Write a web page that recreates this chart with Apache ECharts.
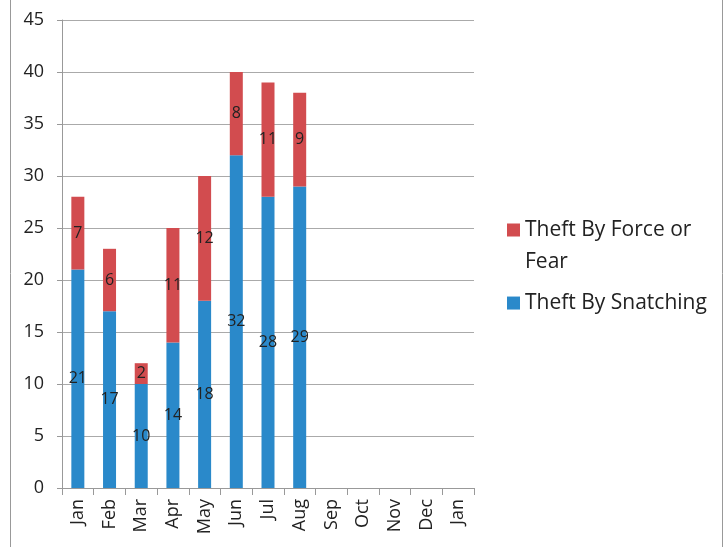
<!DOCTYPE html>
<html>
<head>
  <title>Theft chart</title>
  <script src="https://cdn.jsdelivr.net/npm/echarts@6/dist/echarts.min.js"></script>
  <style>
    html, body { margin: 0; padding: 0; background: #fff; }
    #chart { width: 725px; height: 547px; }
  </style>
</head>
<body>
  <div id="chart"></div>
  <script>
    // datos
    const months = ['Jan', 'Feb', 'Mar', 'Apr', 'May', 'Jun', 'Jul', 'Aug', 'Sep', 'Oct', 'Nov', 'Dec', 'Jan'];
    const snatching = [21, 17, 10, 14, 18, 32, 28, 29, null, null, null, null, null];
    const forceFear = [7, 6, 2, 11, 12, 8, 11, 9, null, null, null, null, null];

    const fontName = '"Open Sans", "DejaVu Sans", sans-serif';
    const legendText = { fontFamily: fontName, fontSize: 21, color: '#222', lineHeight: 32 };
    var myChart = echarts.init(document.getElementById('chart'));

    var option = {
      animation: false,
      grid: { left: 62, right: 251, top: 20, bottom: 59 },
      legend: [
        {
          // cuadrado alineado con la primera linea del texto
          orient: 'vertical',
          left: 502,
          top: 208,
          itemWidth: 13,
          itemHeight: 64,
          icon: 'path://M0,0L13,0L13,0.01ZM0,9.5L13,9.5L13,22.5L0,22.5ZM0,63.99L13,63.99L13,64Z',
          data: ['Theft By Force or Fear'],
          formatter: function () { return 'Theft By Force or\nFear'; },
          textStyle: legendText
        },
        {
          orient: 'vertical',
          left: 502,
          top: 281,
          itemWidth: 13,
          itemHeight: 13,
          icon: 'rect',
          data: ['Theft By Snatching'],
          textStyle: legendText
        }
      ],
      xAxis: {
        type: 'category',
        data: months,
        axisLine: { lineStyle: { color: '#999' } },
        axisTick: { show: true, length: 7, lineStyle: { color: '#999' } },
        axisLabel: { interval: 0, rotate: 90, fontFamily: fontName, fontSize: 18, color: '#222', margin: 11 }
      },
      yAxis: {
        type: 'value',
        min: 0,
        max: 45,
        interval: 5,
        axisLine: { show: true, lineStyle: { color: '#999' } },
        axisTick: { show: true, length: 5, lineStyle: { color: '#999' } },
        axisLabel: { fontFamily: fontName, fontSize: 18, color: '#222', margin: 18 },
        splitLine: { lineStyle: { color: '#aaa' } }
      },
      series: [
        {
          name: 'Theft By Snatching',
          type: 'bar',
          stack: 'total',
          barWidth: 13,
          itemStyle: { color: '#2A89CA' },
          label: { show: true, position: 'inside', fontFamily: fontName, fontSize: 16, color: '#222' },
          data: snatching
        },
        {
          name: 'Theft By Force or Fear',
          type: 'bar',
          stack: 'total',
          barWidth: 13,
          itemStyle: { color: '#D24C4F' },
          label: { show: true, position: 'inside', fontFamily: fontName, fontSize: 16, color: '#222' },
          data: forceFear
        }
      ],
      graphic: [
        { type: 'line', shape: { x1: 10.5, y1: 0, x2: 10.5, y2: 547 }, style: { stroke: '#999', lineWidth: 1 } },
        { type: 'line', shape: { x1: 722.5, y1: 0, x2: 722.5, y2: 547 }, style: { stroke: '#999', lineWidth: 1 } }
      ]
    };

    myChart.setOption(option);
  </script>
</body>
</html>
